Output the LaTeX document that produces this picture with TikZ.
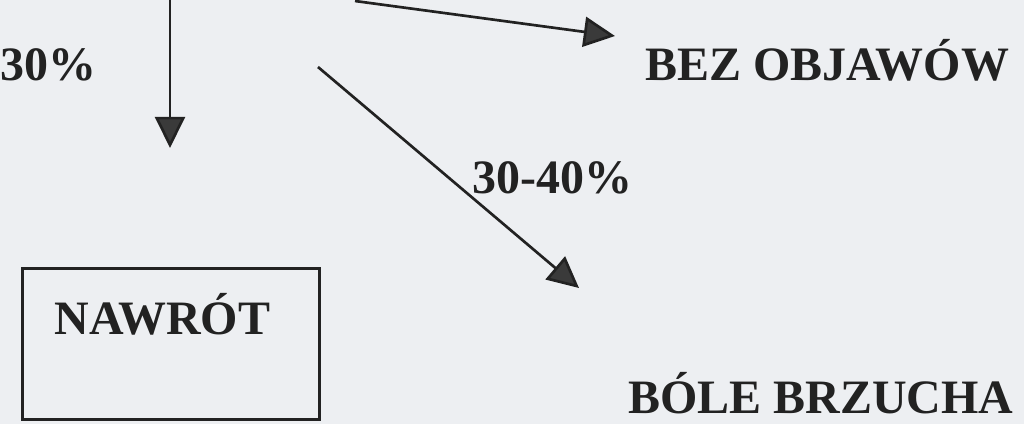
\documentclass[tikz,border=0pt]{standalone}
\usepackage{fontspec}
\setmainfont{Liberation Serif}
\usepackage{tikz}
\usetikzlibrary{arrows.meta,positioning}
\definecolor{paper}{HTML}{EDEFF2}
\definecolor{ink}{HTML}{222222}
\definecolor{tipgray}{HTML}{3A3A3A}

\begin{document}
\begin{tikzpicture}[
  x=0.025cm, y=-0.025cm,
  lbl/.style={anchor=base west, inner sep=0pt, text=ink, text depth=0pt,
              font=\fontsize{34.1}{40}\selectfont\bfseries},
  frame/.style={draw=ink, line width=2pt, anchor=north west,
                inner xsep=0.8cm, inner ysep=0pt, text width=5.825cm,
                align=left, text height=1.65cm, text depth=2.125cm},
  flow/.style={draw=ink, line width=1.9pt,
               -{Triangle[length=0.78cm, width=0.75cm, fill=tipgray]}}
]
\fill[paper] (0,0) rectangle (1024,424);
\useasboundingbox (0,0) rectangle (1024,424);
\node[lbl] (pct30) at (0,80) {30\%};
\node[lbl] (nosympt) at (645,80) {BEZ OBJAWÓW};
\node[lbl] (pct3040) at (472,193) {30-40\%};
\node[frame, text=ink, font=\fontsize{34.1}{40}\selectfont\bfseries]
  (recur) at (21,267) {NAWRÓT};
\node[lbl] (pain) at (628,413) {BÓLE BRZUCHA};
% arrow ends
\coordinate (downA) at (170,0);
\coordinate (downB) at (170,148);
\coordinate (rightA) at (355,1);
\coordinate (rightB) at (615,36);
\coordinate (diagA) at (318,67);
\coordinate (diagB) at (579,288);
\draw[flow] (downA) -- (downB);
\draw[flow] (rightA) -- (rightB);
\draw[flow] (diagA) -- (diagB);
\end{tikzpicture}
\end{document}
